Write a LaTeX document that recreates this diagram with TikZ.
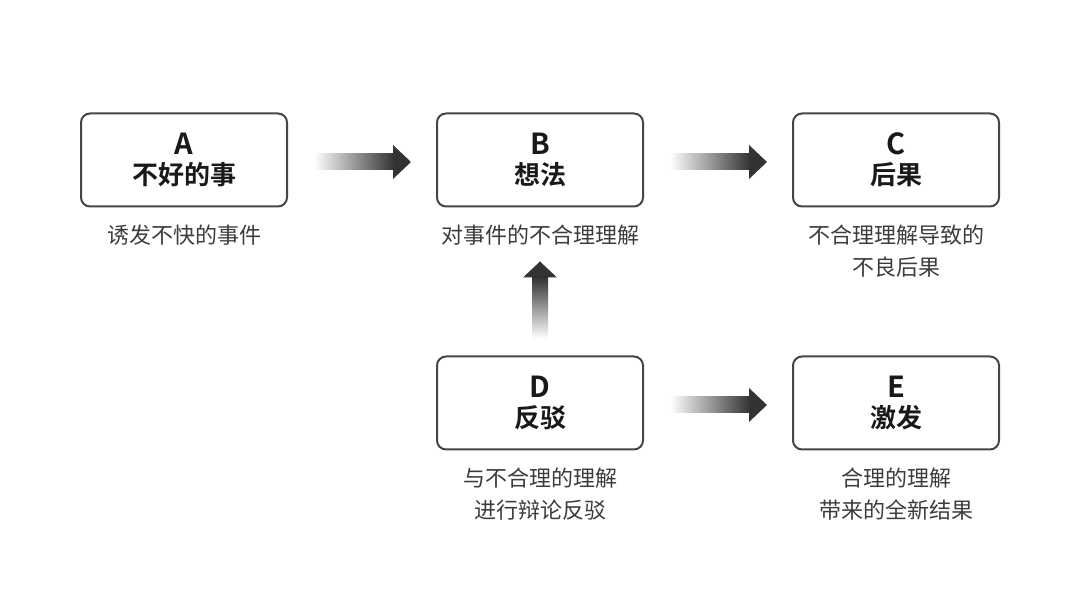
\documentclass[tikz,border=0pt]{standalone}
\usepackage{fontspec}
\setmainfont{Noto Sans CJK SC}[BoldFont={Noto Sans CJK SC Bold}]
\usetikzlibrary{positioning,calc}

\definecolor{edgegray}{HTML}{454545}
\definecolor{arrowgray}{HTML}{333333}
\definecolor{textgray}{HTML}{3C3C3C}

\tikzset{
  stage/.style={draw=edgegray, line width=2pt, rounded corners=9pt,
    minimum width=206pt, minimum height=93pt, align=center,
    text=black!90, font=\bfseries\fontsize{26}{30}\selectfont},
  note/.style={inner sep=0pt, align=center, text=textgray,
    font=\fontsize{22}{32}\selectfont}
}

% big letter on top of a box
\newcommand\tag[1]{{\fontsize{29}{30}\selectfont #1}}

% gradient arrow going right, between two nodes
\newcommand\rgrad[2]{%
  \shade[left color=white, right color=arrowgray]
    ($(#1.east)+(26,-10)$) rectangle ($(#2.west)+(-42,6)$);
  \fill[arrowgray] ($(#2.west)+(-43,-19)$) -- ($(#2.west)+(-25,-2)$)
    -- ($(#2.west)+(-43,15)$) -- cycle;}

\begin{document}
\begin{tikzpicture}[x=1pt,y=1pt]
\useasboundingbox (0,0) rectangle (1080,607);

% boxes
\node[stage] (a) at (184,447) {\tag{A}\\不好的事};
\node[stage] (b) at (540,447) {\tag{B}\\想法};
\node[stage] (c) at (896,447) {\tag{C}\\后果};
\node[stage] (d) at (540,204) {\tag{D}\\反驳};
\node[stage] (e) at (896,204) {\tag{E}\\激发};

% notes
\node[note, below=17pt of a] (na) {诱发不快的事件};
\node[note, below=17pt of b] (nb) {对事件的不合理理解};
\node[note, below=17pt of c] (nc) {不合理理解导致的\\不良后果};
\node[note, below=17pt of d] (nd) {与不合理的理解\\进行辩论反驳};
\node[note, below=17pt of e] (ne) {合理的理解\\带来的全新结果};

% arrows
\rgrad{a}{b}
\rgrad{b}{c}
\rgrad{d}{e}
\shade[bottom color=white, top color=arrowgray]
  ($(d.north)+(-8,17)$) rectangle ($(d.north)+(8,78)$);
\fill[arrowgray] ($(d.north)+(-17,78)$) -- ($(d.north)+(0,94)$)
  -- ($(d.north)+(17,78)$) -- cycle;
\end{tikzpicture}
\end{document}
